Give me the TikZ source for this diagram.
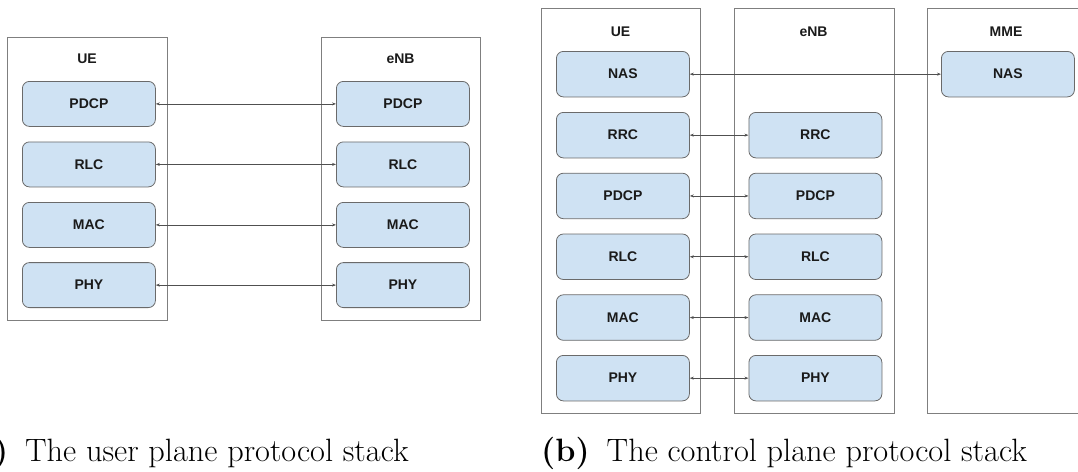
\documentclass[tikz,border=0pt]{standalone}
\usepackage{fontspec}
\newfontfamily\boxfont{Liberation Sans}
\usetikzlibrary{arrows.meta}
\definecolor{layerfill}{HTML}{CFE2F3}
\definecolor{layerline}{HTML}{6A6A6A}
\definecolor{frameline}{HTML}{7F7F7F}
\definecolor{linkline}{HTML}{505050}
\definecolor{labeltext}{HTML}{1A1A1A}
\begin{document}
\begin{tikzpicture}[x=1pt,y=-1pt,
  frame/.style={draw=frameline, line width=0.9pt, anchor=north west, inner sep=0pt},
  layer/.style={draw=layerline, fill=layerfill, line width=0.8pt, rounded corners=7pt,
    anchor=north west, inner sep=0pt, minimum width=133pt,
    font=\boxfont\bfseries\fontsize{14}{16}\selectfont, text=labeltext},
  head/.style={inner sep=0pt, font=\boxfont\bfseries\fontsize{14}{16}\selectfont, text=labeltext},
  link/.style={draw=linkline, line width=0.7pt,
    {Stealth[length=4pt,width=3pt]}-{Stealth[length=4pt,width=3pt]}},
  caption/.style={inner sep=0pt, anchor=base west, font=\fontsize{32.3}{38}\selectfont}]
\useasboundingbox (0,0) rectangle (1078,471);

% ---------- (a) user plane ----------
\node[frame, minimum width=160pt, minimum height=283pt] (aUE) at (7,37) {};
\node[frame, minimum width=159pt, minimum height=283pt] (aENB) at (321,37) {};
\node[head] (aUEt) at (87,59) {UE};
\node[head] (aENBt) at (400.5,59) {eNB};

\node[layer, minimum height=45pt] (aUEpdcp) at (22,81) {PDCP};
\node[layer, minimum height=45pt] (aUErlc)  at (22,141.5) {RLC};
\node[layer, minimum height=45pt] (aUEmac)  at (22,202) {MAC};
\node[layer, minimum height=45pt] (aUEphy)  at (22,262.2) {PHY};

\node[layer, minimum height=45pt] (aENBpdcp) at (336,81) {PDCP};
\node[layer, minimum height=45pt] (aENBrlc)  at (336,141.5) {RLC};
\node[layer, minimum height=45pt] (aENBmac)  at (336,202) {MAC};
\node[layer, minimum height=45pt] (aENBphy)  at (336,262.2) {PHY};

\draw[link] (aUEpdcp.east) -- (aENBpdcp.west);
\draw[link] (aUErlc.east)  -- (aENBrlc.west);
\draw[link] (aUEmac.east)  -- (aENBmac.west);
\draw[link] (aUEphy.east)  -- (aENBphy.west);

\node[caption] (capa) at (-38,461) {\textbf{(a)}\hspace{17pt}The user plane protocol stack};

% ---------- (b) control plane ----------
\node[frame, minimum width=159pt, minimum height=405.5pt] (bUE)  at (541,7.5) {};
\node[frame, minimum width=160pt, minimum height=405.5pt] (bENB) at (733.5,7.5) {};
\node[frame, minimum width=165pt, minimum height=405.5pt] (bMME) at (926.5,7.5) {};
\node[head] (bUEt)  at (620.5,32) {UE};
\node[head] (bENBt) at (813.5,32) {eNB};
\node[head] (bMMEt) at (1006,32) {MME};

\node[layer, minimum height=45.5pt] (bUEnas)  at (556,51) {NAS};
\node[layer, minimum height=45.5pt] (bUErrc)  at (556,112) {RRC};
\node[layer, minimum height=45.5pt] (bUEpdcp) at (556,172.8) {PDCP};
\node[layer, minimum height=45.5pt] (bUErlc)  at (556,233.6) {RLC};
\node[layer, minimum height=45.5pt] (bUEmac)  at (556,294.4) {MAC};
\node[layer, minimum height=45.5pt] (bUEphy)  at (556,355) {PHY};

\node[layer, minimum height=45.5pt] (bENBrrc)  at (748.5,112) {RRC};
\node[layer, minimum height=45.5pt] (bENBpdcp) at (748.5,172.8) {PDCP};
\node[layer, minimum height=45.5pt] (bENBrlc)  at (748.5,233.6) {RLC};
\node[layer, minimum height=45.5pt] (bENBmac)  at (748.5,294.4) {MAC};
\node[layer, minimum height=45.5pt] (bENBphy)  at (748.5,355) {PHY};

\node[layer, minimum height=45.5pt] (bMMEnas) at (941,51) {NAS};

\draw[link] (bUEnas.east)  -- (bMMEnas.west);
\draw[link] (bUErrc.east)  -- (bENBrrc.west);
\draw[link] (bUEpdcp.east) -- (bENBpdcp.west);
\draw[link] (bUErlc.east)  -- (bENBrlc.west);
\draw[link] (bUEmac.east)  -- (bENBmac.west);
\draw[link] (bUEphy.east)  -- (bENBphy.west);

\node[caption] (capb) at (541,461) {\textbf{(b)}\hspace{17pt}The control plane protocol stack};
\end{tikzpicture}
\end{document}
